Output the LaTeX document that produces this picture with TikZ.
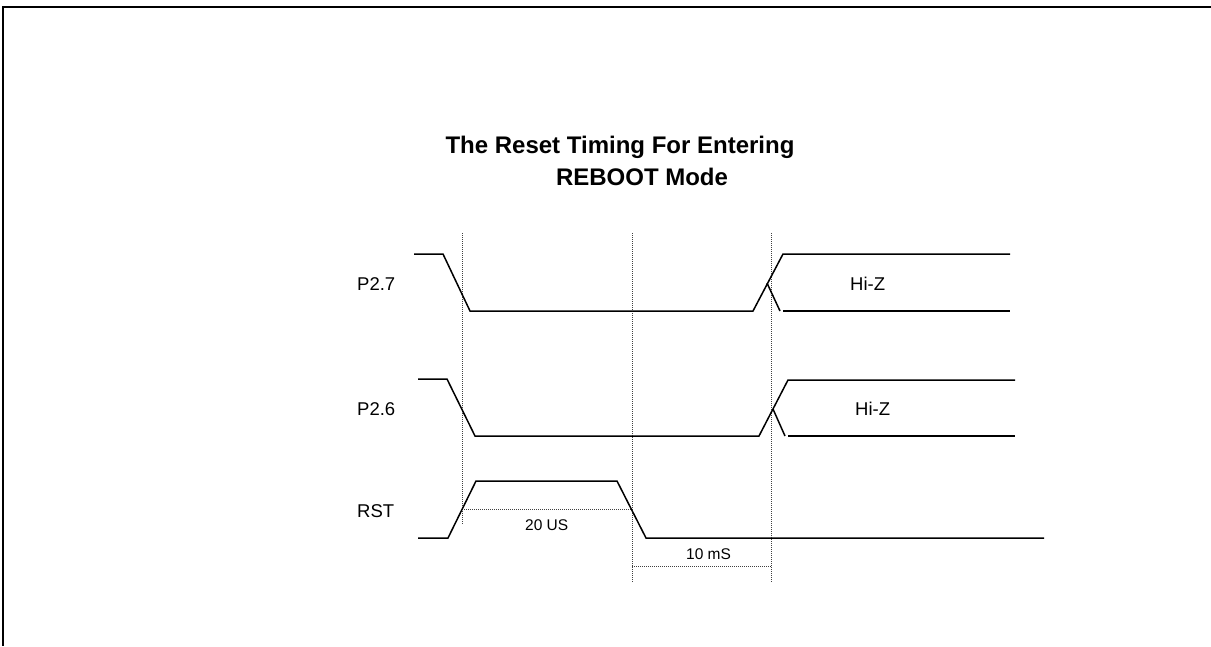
\documentclass[tikz,border=0pt]{standalone}
\usepackage{fontspec}
\setmainfont{Liberation Sans}
\usepackage{tikz}

\begin{document}
\begin{tikzpicture}[x=1pt, y=-1pt,
  wave/.style={line width=1.5pt, line join=miter},
  guide/.style={line width=0.9pt, black!75, dash pattern=on 1pt off 1pt},
  sig/.style={anchor=base west, inner sep=0pt, font=\fontsize{18.5}{20}\selectfont},
  dim/.style={anchor=base west, inner sep=0pt, font=\fontsize{15.5}{17}\selectfont},
  heading/.style={anchor=base, inner sep=0pt, font=\bfseries\fontsize{24}{26}\selectfont}]
\useasboundingbox (0,0) rectangle (1211,646);
\draw[line width=2.4pt] (1211,7) -- (3,7) -- (3,646);
\node[heading] (title1) at (620,153) {The Reset Timing For Entering};
\node[heading] (title2) at (642,185) {REBOOT Mode};
\draw[guide] (462,233) -- (462,525);
\draw[guide] (632,233) -- (632,582);
\draw[guide] (771,233) -- (771,582);
\draw[guide] (462,509) -- (632,509);
\draw[guide] (632,566) -- (771,566);
\node[sig] (p27) at (357,290) {P2.7};
\draw[wave] (414,254) -- (443,254) -- (470,311) -- (753,311) -- (783,254) -- (1010,254);
\draw[wave] (767,283) -- (780,311);
\draw[wave] (783,311) -- (1010,311);
\node[sig] (hiz1) at (850,290) {Hi-Z};
\node[sig] (p26) at (357,415) {P2.6};
\draw[wave] (418,379) -- (447,379) -- (475,436) -- (759,436) -- (788,380) -- (1015,380);
\draw[wave] (773,409) -- (785,436);
\draw[wave] (788,436) -- (1015,436);
\node[sig] (hiz2) at (855,415) {Hi-Z};
\node[sig] (rst) at (357,517) {RST};
\draw[wave] (418,538) -- (448,538) -- (476,481) -- (617,481) -- (646,538) -- (1044,538);
\node[dim] (t20) at (525,530) {20 US};
\node[dim] (t10) at (686,559) {10 mS};
\end{tikzpicture}
\end{document}
